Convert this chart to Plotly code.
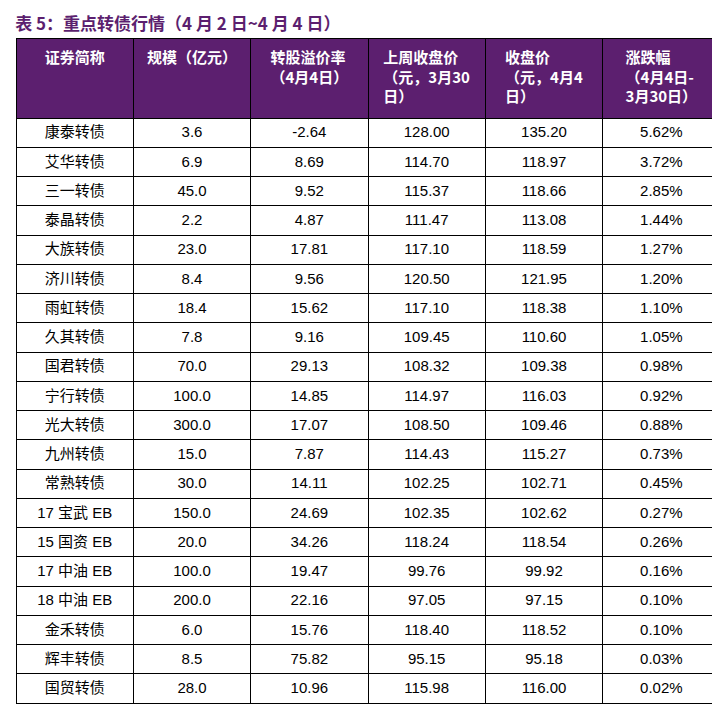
import plotly.graph_objects as go

names = ["康泰转债", "艾华转债", "三一转债", "泰晶转债", "大族转债", "济川转债", "雨虹转债",
         "久其转债", "国君转债", "宁行转债", "光大转债", "九州转债", "常熟转债", "17 宝武 EB",
         "15 国资 EB", "17 中油 EB", "18 中油 EB", "金禾转债", "辉丰转债", "国贸转债"]
scale = ["3.6", "6.9", "45.0", "2.2", "23.0", "8.4", "18.4", "7.8", "70.0", "100.0",
         "300.0", "15.0", "30.0", "150.0", "20.0", "100.0", "200.0", "6.0", "8.5", "28.0"]
premium = ["-2.64", "8.69", "9.52", "4.87", "17.81", "9.56", "15.62", "9.16", "29.13", "14.85",
           "17.07", "7.87", "14.11", "24.69", "34.26", "19.47", "22.16", "15.76", "75.82", "10.96"]
prev_close = ["128.00", "114.70", "115.37", "111.47", "117.10", "120.50", "117.10", "109.45",
              "108.32", "114.97", "108.50", "114.43", "102.25", "102.35", "118.24", "99.76",
              "97.05", "118.40", "95.15", "115.98"]
close = ["135.20", "118.97", "118.66", "113.08", "118.59", "121.95", "118.38", "110.60",
         "109.38", "116.03", "109.46", "115.27", "102.71", "102.62", "118.54", "99.92",
         "97.15", "118.52", "95.15" if False else "95.18", "116.00"]
change = ["5.62%", "3.72%", "2.85%", "1.44%", "1.27%", "1.20%", "1.10%", "1.05%", "0.98%",
          "0.92%", "0.88%", "0.73%", "0.45%", "0.27%", "0.26%", "0.16%", "0.10%", "0.10%",
          "0.03%", "0.02%"]
headers = ["<br>证券简称", "<br>规模（亿元）", "转股溢价率<br>（4月4日）", "上周收盘价<br>（元，3月30<br>日）",
           "收盘价<br>（元，4月4<br>日）", "涨跌幅<br>（4月4日-<br>3月30日）"]

purple = "#5c1f6f"
fig = go.Figure(go.Table(
    columnwidth=[1, 1, 1, 1, 1, 1],
    header=dict(values=["<b>%s</b>" % h for h in headers], fill_color=purple,
                font=dict(color="white", size=15, family="Noto Sans CJK SC"),
                align="center", height=80, line=dict(color="black", width=1)),
    cells=dict(values=[names, scale, premium, prev_close, close, change], fill_color="white",
               font=dict(color="black", size=15, family="Liberation Sans, Noto Sans CJK SC"),
               align="center", height=29.25, line=dict(color="black", width=1)),
))
fig.update_layout(
    width=720, height=705, margin=dict(l=8, r=8, t=30, b=0), paper_bgcolor="white",
    title=dict(text="<b>表 5：重点转债行情（4 月 2 日~4 月 4 日）</b>", x=0.01, xanchor="left",
               y=0.985, yanchor="top", font=dict(color=purple, size=17, family="Noto Sans CJK SC")),
)
fig.write_html("out.html")
